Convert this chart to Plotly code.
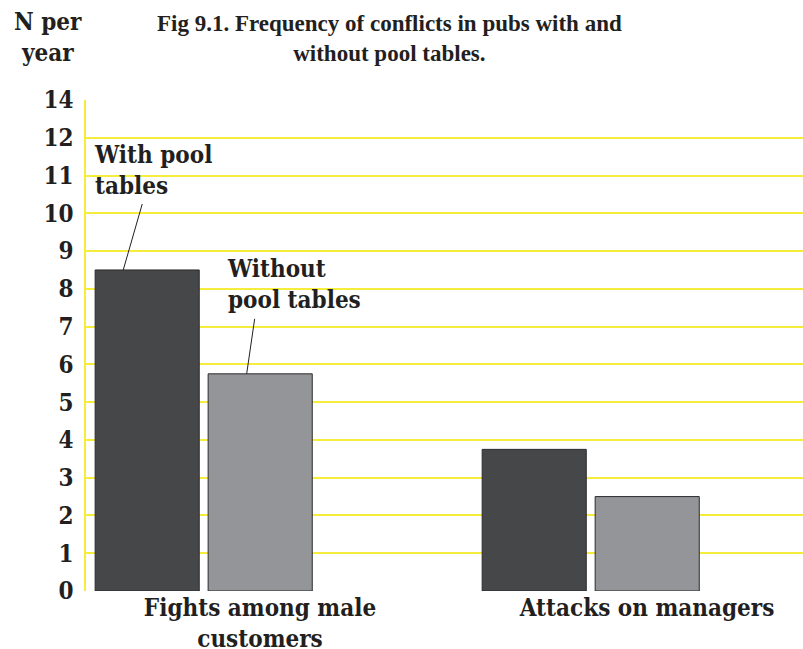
import plotly.graph_objects as go

# ---- data ----
categories = ["Fights among male<br>customers", "Attacks on managers"]
series_names = ["With pool tables", "Without pool tables"]
with_pool = [8.5, 3.75]
without_pool = [5.75, 2.5]
y_tick_values = [0, 1, 2, 3, 4, 5, 6, 7, 8, 9, 10, 11, 12, 13]
y_tick_labels = ["0", "1", "2", "3", "4", "5", "6", "7", "8", "9", "10", "11", "12", "14"]

FONT = "DejaVu Serif Condensed"
TFONT = "Liberation Serif"
TXT = "#231f20"
DARK = "#464749"
LIGHT = "#939598"
GRID = "#f6ec3c"

BAR_W = 0.269
OFFSETS = [-0.426, -0.134]

fig = go.Figure()
for name, vals, col, off in zip(series_names, [with_pool, without_pool], [DARK, LIGHT], OFFSETS):
    fig.add_trace(go.Bar(
        x=categories, y=vals, name=name,
        marker=dict(color=col, line=dict(color="#2b2b2b", width=1)),
        width=BAR_W, offset=off, showlegend=False, hoverinfo="skip",
    ))

# leader lines anchored on bar tops, other end in pixels
leaders = [
    (0, OFFSETS[0] + BAR_W * 0.27, with_pool[0], 19, 66),
    (0, OFFSETS[1] + BAR_W * 0.37, without_pool[0], 8, 55),
]
shapes = []
for cat_i, dx, yv, px, py in leaders:
    shapes.append(dict(
        type="line", xref="x", yref="y",
        xsizemode="pixel", ysizemode="pixel",
        xanchor=cat_i + dx, yanchor=yv,
        x0=0, y0=0, x1=px, y1=py,
        line=dict(color="#231f20", width=1),
    ))

annotations = [
    dict(text="<b>Fig 9.1. Frequency of conflicts in pubs with and<br>without pool tables.</b>",
         xref="paper", yref="paper", x=(389 - 86) / 717, y=1.0, yshift=91, xanchor="center", yanchor="top",
         showarrow=False, font=dict(family=TFONT, size=23, color=TXT), align="center"),
    dict(text="<b>N per<br>year</b>",
         xref="paper", yref="paper", x=(48 - 86) / 717, y=1.0, yshift=95, xanchor="center", yanchor="top",
         showarrow=False, font=dict(family=FONT, size=24, color=TXT), align="center"),
    dict(text="<b>With pool<br>tables</b>",
         xref="paper", yref="paper", x=(92 - 86) / 717, y=1.0, yshift=-38, xanchor="left", yanchor="top",
         showarrow=False, font=dict(family=FONT, size=24, color=TXT), align="left"),
    dict(text="<b>Without<br>pool tables</b>",
         xref="paper", yref="paper", x=(225 - 86) / 717, y=1.0, yshift=-152, xanchor="left", yanchor="top",
         showarrow=False, font=dict(family=FONT, size=24, color=TXT), align="left"),
]

fig.update_layout(
    width=803, height=649,
    margin=dict(l=86, r=0, t=100, b=58, pad=0),
    plot_bgcolor="white", paper_bgcolor="white",
    barmode="overlay",
    shapes=shapes, annotations=annotations,
    font=dict(family=FONT, color=TXT),
)
fig.update_xaxes(
    type="category", range=[-0.4496, 1.403], automargin=False,
    showgrid=False, showline=False, zeroline=False,
    ticks="", tickfont=dict(family=FONT, size=24, color=TXT),
    ticklabelstandoff=0,
    tickvals=categories, ticktext=[f"<b>{c}</b>" for c in categories],
)
fig.update_yaxes(
    range=[0, 13.0], automargin=False,
    tickvals=y_tick_values, ticktext=[f"<b>{t}</b>" for t in y_tick_labels],
    showgrid=True, gridcolor=GRID, gridwidth=1.5,
    showline=True, linecolor=GRID, linewidth=1.5,
    zeroline=False, ticks="", ticklabelstandoff=6,
    tickfont=dict(family=FONT, size=24, color=TXT),
)

fig.write_html("out.html", config={"displayModeBar": False},
               post_script="document.body.style.margin='0';")
